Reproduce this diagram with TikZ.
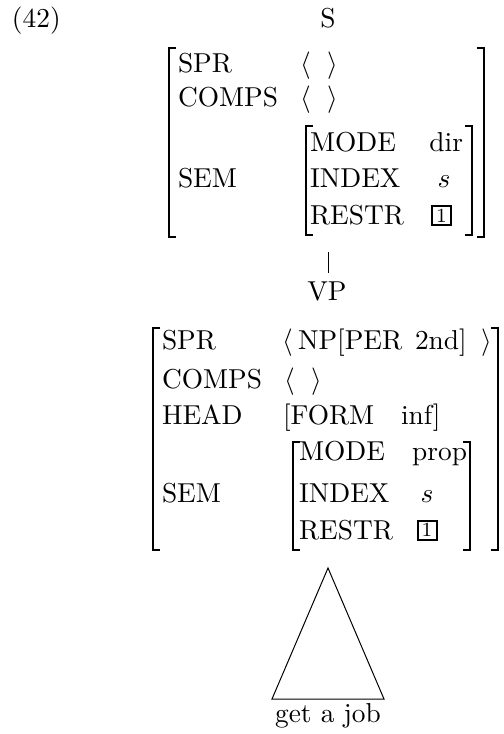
\documentclass[11pt,tikz,border=0pt]{standalone}
\begin{document}
\begin{tikzpicture}[x=0.4pt,y=-0.4pt,
  every node/.style={inner sep=0pt, outer sep=0pt},
  txt/.style={anchor=base west},
  ctr/.style={anchor=base},
  rgt/.style={anchor=base east},
  brk/.style={line width=0.6pt},
  tagbox/.style={draw, line width=0.8pt, minimum width=7.6pt, minimum height=7.6pt, inner sep=0pt, font=\scriptsize},
  edgeline/.style={line width=0.4pt}]
\useasboundingbox (0,0) rectangle (503,734);
% example number and root
\node[txt] (ex) at (12,27) {(42)};
\node[ctr] (S) at (328,27) {S};
% ---- upper AVM ----
\node[txt] (sSPR) at (178,72) {SPR};
\node[txt] (sCOMPS) at (178,106) {COMPS};
\node[txt] (sSEM) at (178,187) {SEM};
\node[txt] (sSPRl) at (300,72) {$\langle$};
\node[txt] (sSPRr) at (327,72) {$\rangle$};
\node[txt] (sCOMPSl) at (300,106) {$\langle$};
\node[txt] (sCOMPSr) at (327,106) {$\rangle$};
\node[txt] (sMODE) at (310,151) {MODE};
\node[txt] (sINDEX) at (310,187) {INDEX};
\node[txt] (sRESTR) at (310,224) {RESTR};
\node[rgt] (sdir) at (463,151) {dir};
\node[ctr] (ss) at (444,187) {$s$};
\node[tagbox] (stag) at (441.5,215.5) {1};
% brackets
\draw[brk] (176,48) -- (169,48) -- (169,237) -- (176,237);
\draw[brk] (477,48) -- (484,48) -- (484,237) -- (477,237);
\draw[brk] (313,126) -- (306,126) -- (306,235) -- (313,235);
\draw[brk] (465,126) -- (472,126) -- (472,235) -- (465,235);
% link S -> VP
\coordinate (lnTop) at (328,252);
\coordinate (lnBot) at (328,273);
\draw[edgeline] (lnTop) -- (lnBot);
\node[ctr] (VP) at (327,300) {VP};
% ---- lower AVM ----
\node[txt] (vSPR) at (162,349) {SPR};
\node[txt] (vCOMPS) at (162,388) {COMPS};
\node[txt] (vHEAD) at (162,424) {HEAD};
\node[txt] (vSEM) at (162,502) {SEM};
\node[txt] (vSPRl) at (282,349) {$\langle$};
\node[txt] (vNP) at (298,349) {NP[PER};
\node[txt] (v2nd) at (415,349) {2nd]};
\node[txt] (vSPRr) at (481,349) {$\rangle$};
\node[txt] (vCOMPSl) at (284,388) {$\langle$};
\node[txt] (vCOMPSr) at (311,388) {$\rangle$};
\node[txt] (vFORM) at (283,424) {[FORM};
\node[txt] (vinf) at (401,424) {inf]};
\node[txt] (vMODE) at (299,460) {MODE};
\node[txt] (vINDEX) at (299,502) {INDEX};
\node[txt] (vRESTR) at (299,539) {RESTR};
\node[rgt] (vprop) at (467,460) {prop};
\node[ctr] (vs) at (427,502) {$s$};
\node[tagbox] (vtag) at (427,530) {1};
% brackets
\draw[brk] (160,328) -- (153,328) -- (153,550) -- (160,550);
\draw[brk] (491,328) -- (498,328) -- (498,550) -- (491,550);
\draw[brk] (300,442) -- (293,442) -- (293,550) -- (300,550);
\draw[brk] (463,442) -- (470,442) -- (470,550) -- (463,550);
% triangle
\coordinate (apex) at (328,568);
\coordinate (baseL) at (272,699);
\coordinate (baseR) at (384,699);
\draw[edgeline] (apex) -- (baseL) -- (baseR) -- cycle;
\node[ctr] (words) at (328,722) {get a job};
\end{tikzpicture}
\end{document}
